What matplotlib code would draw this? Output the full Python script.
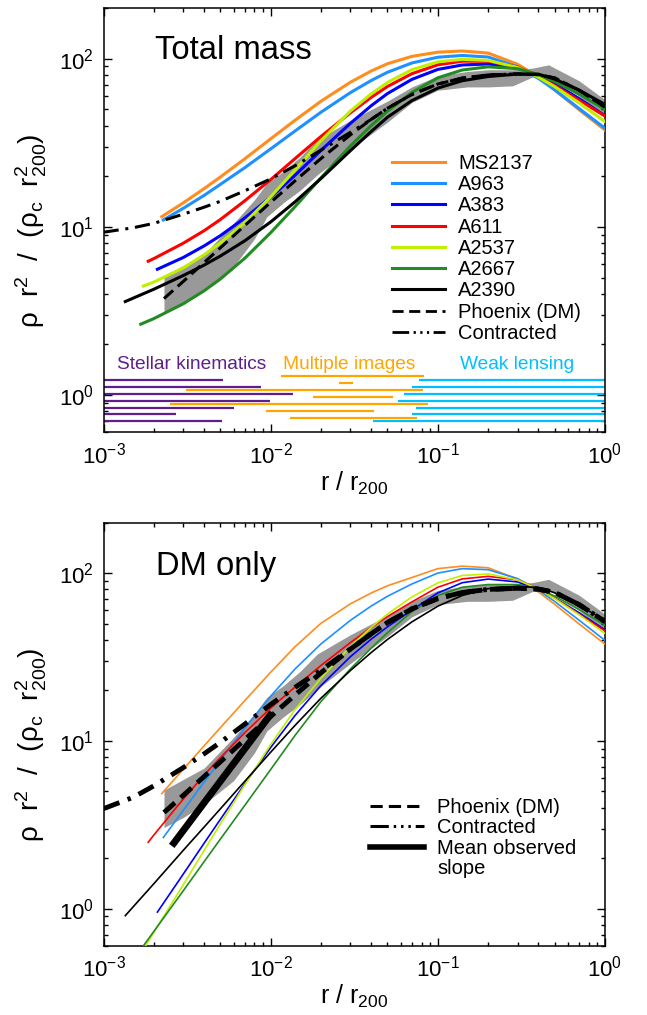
import matplotlib
matplotlib.use("Agg")
import matplotlib.pyplot as plt
from matplotlib.lines import Line2D

plt.rcParams['font.family'] = ['Liberation Sans', 'DejaVu Sans']
plt.rcParams['mathtext.fontset'] = 'custom'
plt.rcParams['mathtext.rm'] = 'Liberation Sans'
plt.rcParams['mathtext.it'] = 'Liberation Sans:italic'
plt.rcParams['mathtext.bf'] = 'Liberation Sans:bold'

# ---------------- data ----------------
names = ['MS2137', 'A963', 'A383', 'A611', 'A2537', 'A2667', 'A2390']
colors = ['#ff8c1e', '#1e90ff', '#0000ff', '#ff0000', '#c0f000', '#228b22', 'black']

g20 = [0.003, 0.004, 0.005, 0.007, 0.01, 0.014, 0.02, 0.03, 0.04, 0.05, 0.07, 0.1, 0.14, 0.2, 0.3, 0.4, 0.5, 0.7, 1.0]

# total mass profiles (top)
tot_x = {
    'MS2137': [0.00223] + g20,
    'A963':   [0.00228] + g20,
    'A383':   [0.0021] + g20,
    'A611':   [0.00185, 0.002] + g20,
    'A2537':  [0.00173, 0.002] + g20,
    'A2667':  [0.00167, 0.002] + g20,
    'A2390':  [0.00135, 0.002] + g20,
}
tot_y = {
    'MS2137': [11.5, 13.9, 16.9, 19.8, 25.4, 33.4, 43.1, 55.9, 72.5, 84.6, 93.4, 103.3, 109.4, 111.2, 108.1, 92.7, 78.0, 65.2, 49.8, 37.7],
    'A963':   [11.0, 12.9, 15.4, 17.9, 22.5, 29.1, 37.2, 48.1, 62.9, 74.3, 83.1, 94.4, 102.1, 104.6, 102.4, 89.5, 76.4, 65.4, 50.6, 38.6],
    'A383':   [5.6, 6.58, 7.71, 8.87, 11.3, 15.0, 20.3, 28.5, 41.3, 52.6, 62.1, 75.4, 86.4, 91.8, 93.1, 88.0, 79.3, 70.9, 58.0, 45.8],
    'A611':   [6.25, 6.48, 8.0, 9.5, 11.06, 14.3, 19.1, 25.5, 34.5, 47.7, 59.0, 68.4, 81.5, 92.0, 96.7, 96.7, 89.2, 78.4, 69.3, 56.6, 45.7],
    'A2537':  [4.45, 4.70, 5.71, 6.83, 8.02, 10.6, 15.1, 21.8, 32.6, 48.9, 61.9, 72.3, 86.1, 95.9, 99.2, 97.7, 88.7, 77.7, 68.3, 54.7, 42.3],
    'A2667':  [2.64, 2.85, 3.49, 4.17, 4.90, 6.51, 9.24, 13.2, 19.6, 30.3, 40.1, 48.8, 63.0, 77.0, 85.7, 89.5, 87.3, 80.5, 73.3, 61.6, 50.1],
    'A2390':  [3.6, 4.26, 5.14, 5.93, 6.71, 8.27, 10.7, 14.1, 19.4, 28.4, 37.0, 44.9, 56.4, 66.9, 74.0, 78.4, 81.0, 81.0, 75.7, 65.1, 53.5],
}

# DM only profiles (bottom)
dm_x = {
    'MS2137': [0.00223] + g20,
    'A963':   [0.00228] + g20,
    'A383':   [0.0021] + g20,
    'A611':   [0.00185, 0.002] + g20,
    'A2537':  [0.00178, 0.002] + g20,
    'A2667':  [0.00173, 0.002] + g20,
    'A2390':  [0.00135, 0.002] + g20,
}
dm_y = {
    'MS2137': [4.86, 6.78, 9.36, 12.0, 17.4, 25.7, 36.5, 50.3, 65.7, 76.3, 84.2, 94.3, 106.5, 110.2, 107.8, 92.4, 77.3, 65.3, 49.9, 37.8],
    'A963':   [2.66, 3.86, 5.69, 7.66, 11.9, 18.5, 26.9, 37.9, 52.4, 63.8, 72.9, 86.3, 100.2, 106.5, 105.0, 92.9, 79.3, 67.9, 52.5, 39.8],
    'A383':   [0.955, 1.61, 2.46, 3.41, 5.55, 9.15, 14.2, 21.4, 31.8, 40.5, 47.9, 60.3, 76.3, 87.8, 92.3, 88.7, 79.9, 71.2, 58.2, 46.0],
    'A611':   [2.49, 2.75, 4.51, 6.26, 7.96, 11.2, 15.7, 21.0, 28.2, 38.6, 47.5, 55.2, 67.5, 82.5, 92.5, 95.8, 91.3, 80.9, 71.1, 57.1, 45.3],
    'A2537':  [0.6, 0.723, 1.39, 2.23, 3.20, 5.48, 9.53, 15.4, 23.7, 36.5, 47.6, 57.1, 72.2, 87.6, 96.9, 99.0, 91.3, 80.4, 70.7, 56.6, 43.8],
    'A2667':  [0.6, 0.733, 1.28, 1.91, 2.60, 4.13, 6.76, 10.8, 17.2, 26.9, 35.8, 44.2, 59.0, 73.6, 82.6, 85.6, 85.6, 80.8, 73.1, 60.7, 49.0],
    'A2390':  [0.91, 1.41, 2.23, 3.07, 3.94, 5.75, 8.57, 12.4, 18.0, 26.3, 33.7, 40.3, 51.3, 63.6, 73.7, 80.9, 83.6, 82.1, 76.5, 64.6, 52.2],
}

# Phoenix (DM) mean profile and scatter band
phx_x = [0.0023] + g20
phx_y = [3.75, 4.74, 6.14, 7.51, 10.2, 14.0, 18.8, 25.5, 35.3, 43.6, 50.8, 61.3, 70.7, 76.7, 80.1, 81.3, 80.4, 76.9, 65.0, 51.6]

band_x = [0.0023, 0.003, 0.004, 0.006, 0.008, 0.0095, 0.012, 0.015, 0.019, 0.03, 0.05, 0.07, 0.1, 0.15, 0.2, 0.28, 0.37, 0.46, 0.7, 1.0]
band_hi = [5.1, 5.9, 6.9, 10.5, 14.5, 18.2, 21.5, 26, 33, 43, 56, 68, 79, 84, 86, 86, 88, 92, 74, 57]
band_lo = [3.05, 3.5, 4.2, 5.8, 8.5, 11.5, 14, 16.5, 20.4, 29, 42, 55, 65, 68, 68, 69, 78, 80, 60, 45]

# adiabatically contracted profiles
con_x = [0.001, 0.0015, 0.002] + g20
con_tot_y = [9.3, 9.88, 10.5, 11.9, 13.1, 14.2, 16.4, 19.3, 23.1, 28.6, 36.5, 43.6, 50.8, 61.3, 70.7, 76.7, 80.1, 81.3, 80.4, 76.9, 65.0, 51.6]
con_dm_y = [3.95, 4.61, 5.40, 6.94, 8.39, 9.81, 12.6, 16.5, 20.9, 26.4, 35.3, 43.6, 50.8, 61.3, 70.7, 76.7, 80.1, 81.3, 80.4, 76.9, 65.0, 51.6]

# mean observed inner slope
slope_x = [0.00256, 0.0102]
slope_y = [2.37, 14.8]

# radial coverage of the observations
sk_xmax = [0.0052, 0.0087, 0.0136, 0.0099, 0.0060, 0.0027, 0.0051]
sk_y = [1.223, 1.116, 1.019, 0.926, 0.841, 0.768, 0.697]
mi_xmin = [0.0115, 0.0255, 0.0031, 0.018, 0.0025, 0.0094, 0.0131]
mi_xmax = [0.0822, 0.031, 0.0816, 0.054, 0.0873, 0.0413, 0.075]
mi_y = [1.298, 1.174, 1.067, 0.973, 0.884, 0.803, 0.730]
wl_xmin = [0.0767, 0.0705, 0.0624, 0.0574, 0.0741, 0.0700, 0.041]
wl_y = [1.223, 1.116, 1.019, 0.926, 0.841, 0.768, 0.697]

# ---------------- figure ----------------
fig = plt.figure(figsize=(6.47, 10.15), dpi=100)
ax1 = fig.add_axes([0.16, 0.574, 0.775, 0.418])
ax2 = fig.add_axes([0.16, 0.068, 0.775, 0.417])

dash = (0, (4, 2))
con_style = (0, (5, 2.2, 1, 2.2))
con_leg_style = (0, (6, 1.6, 0.8, 1.6, 0.8, 1.6, 0.8, 1.6))
ylab = 'ρ  r$^2$  /  (ρ$_\\mathrm{c}$  r$^2_{200}$)'

for ax in (ax1, ax2):
    ax.set_xscale('log')
    ax.set_yscale('log')
    ax.set_xlim(1e-3, 1)
    ax.set_ylim(0.6, 200)
    ax.fill_between(band_x, band_lo, band_hi, color='#999999', lw=0, zorder=1)
    ax.tick_params(which='both', direction='in', top=True, right=True, labelsize=16, width=1)
    ax.tick_params(which='major', length=6, pad=7)
    ax.tick_params(which='minor', length=3.2)
    for s in ax.spines.values():
        s.set_linewidth(1.1)
    ax.set_xlabel('r / r$_{200}$', fontsize=18, labelpad=1)
    ax.set_ylabel(ylab, fontsize=20)
    ax.yaxis.set_label_coords(-0.108, 0.476)

# top panel
for n, c in zip(names, colors):
    ax1.plot(tot_x[n], tot_y[n], color=c, lw=2.2, zorder=3)
ax1.plot(phx_x, phx_y, color='black', lw=2.2, ls=dash, zorder=4)
ax1.plot(con_x, con_tot_y, color='black', lw=2.2, ls=con_style, zorder=4)

ax1.hlines(sk_y, 1e-3, sk_xmax, color='#5e1e8c', lw=1.6, zorder=2)
ax1.hlines(mi_y, mi_xmin, mi_xmax, color='#ffa500', lw=1.6, zorder=2)
ax1.hlines(wl_y, wl_xmin, 1.0, color='#00bfff', lw=1.6, zorder=2)
ax1.text(0.0012, 1.52, 'Stellar kinematics', color='#5e1e8c', fontsize=13.8, va='center')
ax1.text(0.0118, 1.52, 'Multiple images', color='#ffa500', fontsize=13.8, va='center')
ax1.text(0.1365, 1.52, 'Weak lensing', color='#00bfff', fontsize=13.8, va='center')
ax1.text(0.00203, 100, 'Total mass', fontsize=23.6)

h1 = [Line2D([], [], color=c, lw=2.2) for c in colors]
h1.append(Line2D([], [], color='black', lw=2.0, ls=dash))
h1.append(Line2D([], [], color='black', lw=2.0, ls=con_leg_style))
ax1.legend(h1, names + ['Phoenix (DM)', 'Contracted'], loc='upper left',
           bbox_to_anchor=(0.575, 0.656), frameon=False, fontsize=14.5,
           handlelength=2.65, handletextpad=0.65, labelspacing=0.11,
           borderpad=0, borderaxespad=0)

# bottom panel
for n, c in zip(names, colors):
    ax2.plot(dm_x[n], dm_y[n], color=c, lw=1.2, zorder=3)
ax2.plot(phx_x, phx_y, color='black', lw=3.5, ls=(0, (3, 1.6)), zorder=4)
ax2.plot(con_x, con_dm_y, color='black', lw=3.5, ls=(0, (3.5, 1.8, 0.7, 1.8)), zorder=4)
ax2.plot(slope_x, slope_y, color='black', lw=5, solid_capstyle='butt', zorder=5)
ax2.text(0.00205, 98, 'DM only', fontsize=23.6)

h2 = [Line2D([], [], color='black', lw=2.2, ls=dash),
      Line2D([], [], color='black', lw=2.2, ls=con_leg_style),
      Line2D([], [], color='black', lw=4),
      Line2D([], [], color='none')]
ax2.legend(h2, ['Phoenix (DM)', 'Contracted', 'Mean observed', 'slope'], loc='upper left',
           bbox_to_anchor=(0.531, 0.3506), frameon=False, fontsize=14.5,
           handlelength=2.7, handletextpad=0.65, labelspacing=0.08,
           borderpad=0, borderaxespad=0)

fig.savefig('out.png', dpi=100)
